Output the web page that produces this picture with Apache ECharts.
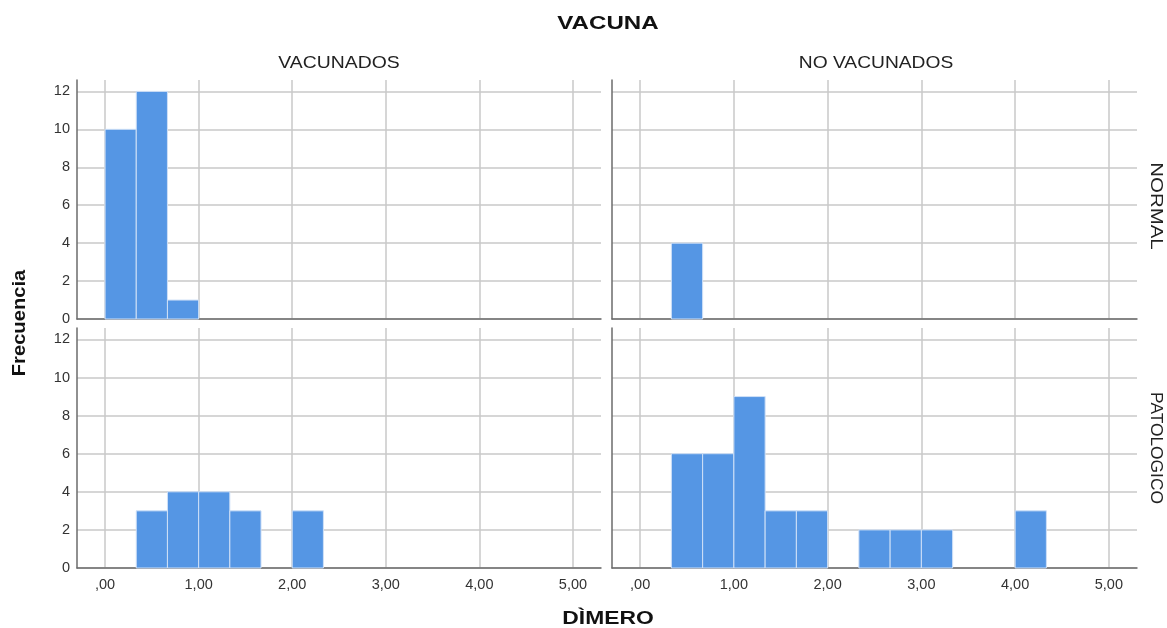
<!DOCTYPE html>
<html>
<head>
<meta charset="utf-8">
<script src="https://cdn.jsdelivr.net/npm/echarts@6/dist/echarts.min.js"></script>
<style>html,body{margin:0;padding:0;background:#fff}#c{width:1167px;height:628px}</style>
</head>
<body>
<div id="c"></div>
<script>
// Histogram bins (DÌMERO), width 1/3
const binLo = [0, 1/3, 2/3, 1, 4/3, 5/3, 2, 7/3, 8/3, 3, 10/3, 11/3, 4, 13/3, 14/3];
const binWidth = 1/3;
// Frequencies per panel
const vacNormal   = [10, 12, 1, 0, 0, 0, 0, 0, 0, 0, 0, 0, 0, 0, 0];
const noVacNormal = [0, 4, 0, 0, 0, 0, 0, 0, 0, 0, 0, 0, 0, 0, 0];
const vacPat      = [0, 3, 4, 4, 3, 0, 3, 0, 0, 0, 0, 0, 0, 0, 0];
const noVacPat    = [0, 6, 6, 9, 3, 3, 0, 2, 2, 2, 0, 0, 3, 0, 0];
const xTicks = [0, 1, 2, 3, 4, 5];
const yTicks = [0, 2, 4, 6, 8, 10, 12];
const colLabels = ['VACUNADOS', 'NO VACUNADOS'];
const rowLabels = ['NORMAL', 'PATOLOGICO'];

const FONT = '"Liberation Sans", Arial, sans-serif';
const BAR = '#5596e4';
const GRIDC = '#c9c9c9';
const AXC = '#6b6b6b';

const panels = [
  {data: vacNormal,   grid: {left: 77,  top: 80,  width: 524, height: 239}, showX: false, showY: true},
  {data: noVacNormal, grid: {left: 612, top: 80,  width: 525, height: 239}, showX: false, showY: false},
  {data: vacPat,      grid: {left: 77,  top: 328, width: 524, height: 240}, showX: true,  showY: true},
  {data: noVacPat,    grid: {left: 612, top: 328, width: 525, height: 240}, showX: true,  showY: false}
];

function fmtX(v) {
  const s = v.toFixed(2).replace('.', ',');
  return s.startsWith('0') ? s.slice(1) : s;
}

function label(text, x, y, font, sx, rot, fill) {
  return {type: 'text', x: x, y: y, rotation: rot || 0, scaleX: sx,
    style: {text: text, font: font, fill: fill || '#222', align: 'center', verticalAlign: 'middle'}};
}

const option = {
  animation: false,
  backgroundColor: '#fff',
  textStyle: {fontFamily: FONT},
  grid: panels.map(p => Object.assign({containLabel: false}, p.grid)),
  xAxis: panels.map((p, i) => ({
    type: 'value', gridIndex: i, min: -0.3, max: 5.3,
    axisLine: {show: true, onZero: false, lineStyle: {color: AXC, width: 1.5}},
    axisTick: {show: false, customValues: xTicks},
    axisLabel: {show: p.showX, customValues: xTicks, formatter: fmtX, color: '#333', fontSize: 14.5, fontFamily: FONT, margin: 9},
    splitLine: {show: true, lineStyle: {color: GRIDC, width: 1.5}}
  })),
  yAxis: panels.map((p, i) => ({
    type: 'value', gridIndex: i, min: 0, max: 12.6,
    axisLine: {show: true, onZero: false, lineStyle: {color: AXC, width: 1.5}},
    axisTick: {show: false, customValues: yTicks},
    axisLabel: {show: p.showY, customValues: yTicks, color: '#333', fontSize: 14.5, fontFamily: FONT, margin: 7},
    splitLine: {show: true, lineStyle: {color: GRIDC, width: 1.5}}
  })),
  graphic: [
    label('VACUNA', 608, 24, 'bold 19px ' + FONT, 1.27, 0, '#111'),
    label('DÌMERO', 608, 619, 'bold 18px ' + FONT, 1.27, 0, '#111'),
    label(colLabels[0], 339, 63, '17px ' + FONT, 1.14),
    label(colLabels[1], 876, 63, '17px ' + FONT, 1.13),
    label(rowLabels[0], 1156, 206, '17px ' + FONT, 1.2, -Math.PI / 2),
    label(rowLabels[1], 1156, 448, '17px ' + FONT, 1.02, -Math.PI / 2),
    label('Frecuencia', 20, 323, 'bold 18px ' + FONT, 1.12, Math.PI / 2, '#111')
  ],
  series: panels.map((p, i) => ({
    type: 'custom', xAxisIndex: i, yAxisIndex: i,
    encode: {x: [0, 1], y: 2},
    data: binLo.map((lo, k) => [lo, lo + binWidth, p.data[k]]).filter(d => d[2] > 0),
    renderItem: function (params, api) {
      const p0 = api.coord([api.value(0), api.value(2)]);
      const p1 = api.coord([api.value(1), 0]);
      return {
        type: 'rect',
        shape: {x: p0[0], y: p0[1], width: p1[0] - p0[0], height: p1[1] - p0[1]},
        style: {fill: BAR, stroke: '#cfe0f7', lineWidth: 1}
      };
    }
  }))
};

echarts.init(document.getElementById('c')).setOption(option);
</script>
</body>
</html>
